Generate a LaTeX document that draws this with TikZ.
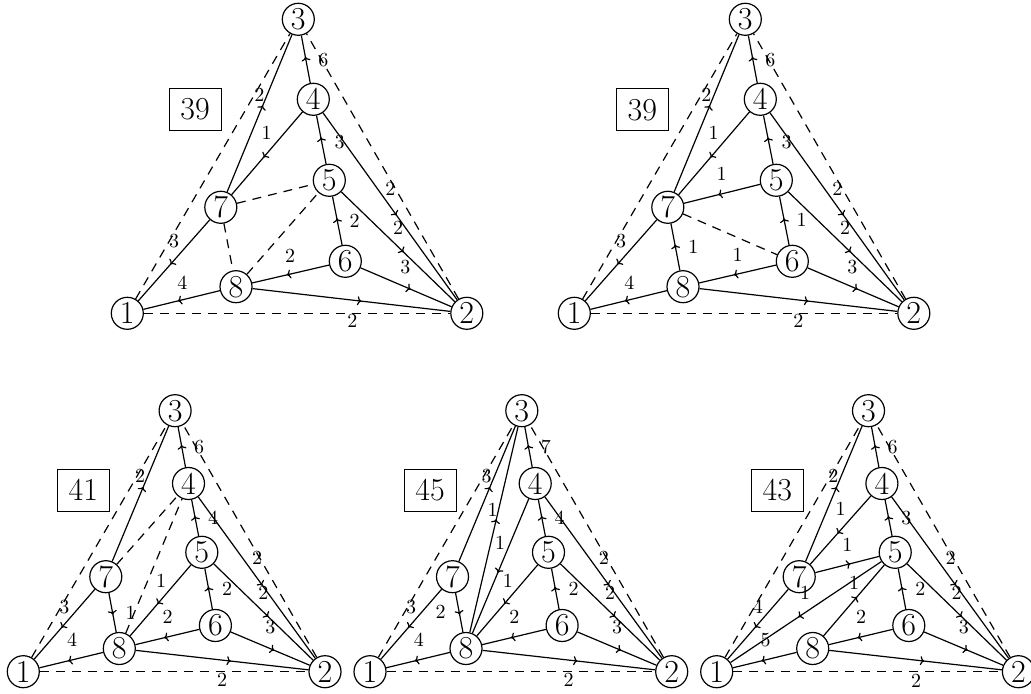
\documentclass[tikz,border=0pt]{standalone}
\usetikzlibrary{arrows.meta,decorations.markings}
\tikzset{
  vx/.style={circle,draw,line width=0.6pt,minimum size=16pt,inner sep=0pt,font=\fontsize{16}{16}\selectfont},
  lb/.style={inner sep=0pt,font=\fontsize{10}{10}\selectfont},
  bx/.style={draw,line width=0.5pt,minimum width=26pt,minimum height=21pt,inner sep=0pt,font=\fontsize{16}{16}\selectfont},
  de/.style={line width=0.6pt,dash pattern=on 4.5pt off 3.5pt},
  ae/.style={line width=0.6pt,postaction={decorate},decoration={markings,mark=at position 0.55 with {\arrow{To[length=2pt,width=4.5pt]}}}},
}
\newcommand\TopNodes[1]{%
  \node[vx] (#1-1) at (0,0) {1};
  \node[vx] (#1-2) at (339.5,0) {2};
  \node[vx] (#1-3) at (171,-294) {3};
  \node[vx] (#1-4) at (186,-214) {4};
  \node[vx] (#1-5) at (202,-133) {5};
  \node[vx] (#1-6) at (218,-52) {6};
  \node[vx] (#1-7) at (93.5,-106) {7};
  \node[vx] (#1-8) at (108.7,-26.6) {8};
}
\newcommand\BotNodes[1]{%
  \node[vx] (#1-1) at (0,0) {1};
  \node[vx] (#1-2) at (301.7,0) {2};
  \node[vx] (#1-3) at (151.8,-261) {3};
  \node[vx] (#1-4) at (165.2,-188.2) {4};
  \node[vx] (#1-5) at (178.5,-119.4) {5};
  \node[vx] (#1-6) at (192.1,-46.2) {6};
  \node[vx] (#1-7) at (82.5,-95) {7};
  \node[vx] (#1-8) at (96,-23.2) {8};
}
\begin{document}
\begin{tikzpicture}[x=0.5pt,y=-0.5pt]
\useasboundingbox (0,0) rectangle (1031,694);

% ---------- panel 1 ----------
\begin{scope}[shift={(127.3,313.3)}]
  \TopNodes{a}
  \node[bx] (a-box) at (67.8,-204) {39};
  \draw[de] (a-1) -- (a-2);
  \draw[de] (a-1) -- (a-3);
  \draw[de] (a-2) -- (a-3);
  \draw[de] (a-7) -- (a-5);
  \draw[de] (a-7) -- (a-8);
  \draw[de] (a-8) -- (a-5);
  \draw[ae] (a-8) -- (a-1);
  \draw[ae] (a-6) -- (a-8);
  \draw[ae] (a-8) -- (a-2);
  \draw[ae] (a-6) -- (a-2);
  \draw[ae] (a-5) -- (a-2);
  \draw[ae] (a-4) -- (a-2);
  \draw[ae] (a-6) -- (a-5);
  \draw[ae] (a-5) -- (a-4);
  \draw[ae] (a-4) -- (a-3);
  \draw[ae] (a-4) -- (a-7);
  \draw[ae] (a-7) -- (a-3);
  \draw[ae] (a-7) -- (a-1);
  \node[lb] (a-l1) at (225,8) {2};
  \node[lb] (a-l2) at (196,-253.3) {6};
  \node[lb] (a-l3) at (132,-218.3) {2};
  \node[lb] (a-l4) at (139.2,-180) {1};
  \node[lb] (a-l5) at (212.2,-171.6) {3};
  \node[lb] (a-l6) at (263,-124.3) {2};
  \node[lb] (a-l7) at (270.8,-85.6) {2};
  \node[lb] (a-l8) at (278,-46.6) {3};
  \node[lb] (a-l9) at (227.2,-92.4) {2};
  \node[lb] (a-l10) at (162.7,-57.3) {2};
  \node[lb] (a-l11) at (55,-30.3) {4};
  \node[lb] (a-l12) at (46.8,-72.6) {3};
\end{scope}

% ---------- panel 2 ----------
\begin{scope}[shift={(574.3,313.3)}]
  \TopNodes{b}
  \node[bx] (b-box) at (68,-203.3) {39};
  \draw[de] (b-1) -- (b-2);
  \draw[de] (b-1) -- (b-3);
  \draw[de] (b-2) -- (b-3);
  \draw[de] (b-7) -- (b-6);
  \draw[ae] (b-8) -- (b-1);
  \draw[ae] (b-6) -- (b-8);
  \draw[ae] (b-8) -- (b-2);
  \draw[ae] (b-6) -- (b-2);
  \draw[ae] (b-5) -- (b-2);
  \draw[ae] (b-4) -- (b-2);
  \draw[ae] (b-6) -- (b-5);
  \draw[ae] (b-5) -- (b-4);
  \draw[ae] (b-4) -- (b-3);
  \draw[ae] (b-4) -- (b-7);
  \draw[ae] (b-7) -- (b-3);
  \draw[ae] (b-7) -- (b-1);
  \draw[ae] (b-5) -- (b-7);
  \draw[ae] (b-8) -- (b-7);
  \node[lb] (b-l1) at (224,7.4) {2};
  \node[lb] (b-l2) at (196,-253.3) {6};
  \node[lb] (b-l3) at (132,-218.3) {2};
  \node[lb] (b-l4) at (139.2,-180) {1};
  \node[lb] (b-l5) at (212.2,-171.6) {3};
  \node[lb] (b-l6) at (263,-124.3) {2};
  \node[lb] (b-l7) at (270.8,-85.6) {2};
  \node[lb] (b-l8) at (278,-46.6) {3};
  \node[lb] (b-l9) at (227.4,-93.3) {1};
  \node[lb] (b-l10) at (163.4,-58.3) {1};
  \node[lb] (b-l11) at (55,-30.3) {4};
  \node[lb] (b-l12) at (46.8,-72.6) {3};
  \node[lb] (b-l13) at (147.4,-139) {1};
  \node[lb] (b-l14) at (119,-66.6) {1};
\end{scope}

% ---------- panel 3 ----------
\begin{scope}[shift={(23.3,671.7)}]
  \BotNodes{c}
  \node[bx] (c-box) at (60,-181.7) {41};
  \draw[de] (c-1) -- (c-2);
  \draw[de] (c-1) -- (c-3);
  \draw[de] (c-2) -- (c-3);
  \draw[de] (c-7) -- (c-4);
  \draw[de] (c-8) -- (c-4);
  \draw[ae] (c-8) -- (c-1);
  \draw[ae] (c-6) -- (c-8);
  \draw[ae] (c-8) -- (c-2);
  \draw[ae] (c-6) -- (c-2);
  \draw[ae] (c-5) -- (c-2);
  \draw[ae] (c-4) -- (c-2);
  \draw[ae] (c-6) -- (c-5);
  \draw[ae] (c-5) -- (c-4);
  \draw[ae] (c-4) -- (c-3);
  \draw[ae] (c-7) -- (c-3);
  \draw[ae] (c-7) -- (c-1);
  \draw[ae] (c-5) -- (c-8);
  \draw[ae] (c-7) -- (c-8);
  \node[lb] (c-l1) at (198.7,8.5) {2};
  \node[lb] (c-l2) at (175.9,-224.4) {6};
  \node[lb] (c-l3) at (116.7,-195.7) {2};
  \node[lb] (c-l4) at (189.7,-153.7) {4};
  \node[lb] (c-l5) at (233.9,-113.4) {2};
  \node[lb] (c-l6) at (240,-78.4) {2};
  \node[lb] (c-l7) at (247.1,-44.4) {3};
  \node[lb] (c-l8) at (203.7,-82.7) {2};
  \node[lb] (c-l9) at (137.8,-91) {1};
  \node[lb] (c-l10) at (144.4,-54.8) {2};
  \node[lb] (c-l11) at (48.9,-31.5) {4};
  \node[lb] (c-l12) at (41.1,-65) {3};
  \node[lb] (c-l13) at (107.4,-59) {1};
\end{scope}

% ---------- panel 4 ----------
\begin{scope}[shift={(370,671.7)}]
  \BotNodes{d}
  \node[bx] (d-box) at (60,-181.7) {45};
  \draw[de] (d-1) -- (d-2);
  \draw[de] (d-1) -- (d-3);
  \draw[de] (d-2) -- (d-3);
  \draw[ae] (d-8) -- (d-1);
  \draw[ae] (d-6) -- (d-8);
  \draw[ae] (d-8) -- (d-2);
  \draw[ae] (d-6) -- (d-2);
  \draw[ae] (d-5) -- (d-2);
  \draw[ae] (d-4) -- (d-2);
  \draw[ae] (d-6) -- (d-5);
  \draw[ae] (d-5) -- (d-4);
  \draw[ae] (d-4) -- (d-3);
  \draw[ae] (d-7) -- (d-3);
  \draw[ae] (d-7) -- (d-1);
  \draw[ae] (d-5) -- (d-8);
  \draw[ae] (d-7) -- (d-8);
  \draw[ae] (d-8) -- (d-3);
  \draw[ae] (d-4) -- (d-8);
  \node[lb] (d-l1) at (198.7,8.5) {2};
  \node[lb] (d-l2) at (175.9,-224.4) {7};
  \node[lb] (d-l3) at (116.7,-195.7) {3};
  \node[lb] (d-l4) at (189.7,-153.7) {4};
  \node[lb] (d-l5) at (233.9,-113.4) {2};
  \node[lb] (d-l6) at (240,-78.4) {2};
  \node[lb] (d-l7) at (247.1,-44.4) {3};
  \node[lb] (d-l8) at (203.7,-82.7) {2};
  \node[lb] (d-l9) at (137.8,-91) {1};
  \node[lb] (d-l10) at (144.4,-54.8) {2};
  \node[lb] (d-l11) at (48.9,-31.5) {4};
  \node[lb] (d-l12) at (41.1,-65) {3};
  \node[lb] (d-l13) at (122.7,-161.7) {1};
  \node[lb] (d-l14) at (130,-128.4) {1};
  \node[lb] (d-l15) at (70.7,-60) {2};
\end{scope}

% ---------- panel 5 ----------
\begin{scope}[shift={(716.7,671.7)}]
  \BotNodes{e}
  \node[bx] (e-box) at (60.6,-181.7) {43};
  \draw[de] (e-1) -- (e-2);
  \draw[de] (e-1) -- (e-3);
  \draw[de] (e-2) -- (e-3);
  \draw[ae] (e-8) -- (e-1);
  \draw[ae] (e-6) -- (e-8);
  \draw[ae] (e-8) -- (e-2);
  \draw[ae] (e-6) -- (e-2);
  \draw[ae] (e-5) -- (e-2);
  \draw[ae] (e-4) -- (e-2);
  \draw[ae] (e-6) -- (e-5);
  \draw[ae] (e-5) -- (e-4);
  \draw[ae] (e-4) -- (e-3);
  \draw[ae] (e-4) -- (e-7);
  \draw[ae] (e-7) -- (e-3);
  \draw[ae] (e-7) -- (e-1);
  \draw[ae] (e-7) -- (e-5);
  \draw[ae] (e-8) -- (e-5);
  \draw[ae] (e-5) -- (e-1);
  \node[lb] (e-l1) at (199.3,9) {2};
  \node[lb] (e-l2) at (175.9,-224.4) {6};
  \node[lb] (e-l3) at (116.7,-195.7) {2};
  \node[lb] (e-l4) at (189.7,-153.7) {3};
  \node[lb] (e-l5) at (233.9,-113.4) {2};
  \node[lb] (e-l6) at (240,-78.4) {2};
  \node[lb] (e-l7) at (247.1,-44.4) {3};
  \node[lb] (e-l8) at (203.7,-82.7) {2};
  \node[lb] (e-l9) at (124,-162.4) {1};
  \node[lb] (e-l10) at (130.6,-126.7) {1};
  \node[lb] (e-l11) at (137.3,-88.4) {1};
  \node[lb] (e-l12) at (88.3,-78.4) {1};
  \node[lb] (e-l13) at (144.4,-54.8) {2};
  \node[lb] (e-l14) at (48.9,-31.5) {5};
  \node[lb] (e-l15) at (41.1,-65) {4};
\end{scope}
\end{tikzpicture}
\end{document}
